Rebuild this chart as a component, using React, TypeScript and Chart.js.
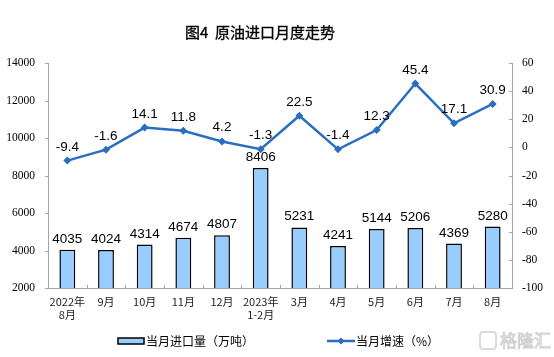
import React, { useEffect, useRef } from 'react';
import { Chart, registerables } from 'chart.js';

Chart.register(...registerables);

const categories: (string | string[])[] = [
  ['2022年', '8月'], '9月', '10月', '11月', '12月', ['2023年', '1-2月'],
  '3月', '4月', '5月', '6月', '7月', '8月',
];
const importVolume = [4035, 4024, 4314, 4674, 4807, 8406, 5231, 4241, 5144, 5206, 4369, 5280];
const growthRate = [-9.4, -1.6, 14.1, 11.8, 4.2, -1.3, 22.5, -1.4, 12.3, 45.4, 17.1, 30.9];
const leftAxis = { min: 2000, max: 14000, step: 2000 };
const rightAxis = { min: -100, max: 60, step: 20 };
const titleText = '图4  原油进口月度走势';
const barLegend = '当月进口量（万吨）';
const lineLegend = '当月增速（%）';
const watermark = '格隆汇';

const BAR_FILL = '#99CCFF';
const LINE_COLOR = '#2A6EC2';
const AXIS_COLOR = '#A6A6A6';
const CJK = '"Noto Sans CJK SC", "Noto Sans", sans-serif';
const SERIF = '"Liberation Serif", "Times New Roman", serif';
const SANS = '"Liberation Sans", Arial, sans-serif';

const decorPlugin = {
  id: 'decor',
  afterDatasetsDraw(chart: any) {
    const ctx = chart.ctx as CanvasRenderingContext2D;
    ctx.save();
    ctx.fillStyle = '#000';
    ctx.font = `13.5px ${SANS}`;
    ctx.textAlign = 'center';
    ctx.textBaseline = 'alphabetic';
    const barMeta = chart.getDatasetMeta(0);
    barMeta.data.forEach((el: any, i: number) => {
      ctx.fillText(String(importVolume[i]), el.x, el.y - 7);
    });
    const lineMeta = chart.getDatasetMeta(1);
    lineMeta.data.forEach((el: any, i: number) => {
      ctx.fillText(growthRate[i].toFixed(1), el.x, el.y - 10);
    });
    ctx.restore();
  },
  afterDraw(chart: any) {
    const ctx = chart.ctx as CanvasRenderingContext2D;
    const area = chart.chartArea;
    ctx.save();
    ctx.strokeStyle = AXIS_COLOR;
    ctx.lineWidth = 1;
    const ys = chart.scales.y;
    for (let v = leftAxis.min; v <= leftAxis.max; v += leftAxis.step) {
      const y = Math.round(ys.getPixelForValue(v)) + 0.5;
      ctx.beginPath();
      ctx.moveTo(area.left - 3, y);
      ctx.lineTo(area.left, y);
      ctx.stroke();
    }
    const ys1 = chart.scales.y1;
    for (let v = rightAxis.min; v <= rightAxis.max; v += rightAxis.step) {
      const y = Math.round(ys1.getPixelForValue(v)) + 0.5;
      ctx.beginPath();
      ctx.moveTo(area.right - 3, y);
      ctx.lineTo(area.right, y);
      ctx.stroke();
    }
    const n = categories.length;
    const w = (area.right - area.left) / n;
    for (let i = 1; i < n; i++) {
      const x = Math.round(area.left + i * w) + 0.5;
      ctx.beginPath();
      ctx.moveTo(x, area.bottom - 3);
      ctx.lineTo(x, area.bottom);
      ctx.stroke();
    }

    // title
    ctx.fillStyle = '#000';
    ctx.strokeStyle = '#000';
    ctx.lineWidth = 0.35;
    ctx.font = `15px ${CJK}`;
    ctx.textAlign = 'center';
    ctx.textBaseline = 'middle';
    ctx.fillText(titleText, 260, 32);
    ctx.strokeText(titleText, 260, 32);

    // legend
    const ly = 341;
    ctx.fillStyle = BAR_FILL;
    ctx.fillRect(118, ly - 3, 26, 6);
    ctx.strokeStyle = '#000';
    ctx.lineWidth = 1.5;
    ctx.strokeRect(118, ly - 3, 26, 6);
    ctx.fillStyle = '#000';
    ctx.font = `12px ${CJK}`;
    ctx.textAlign = 'left';
    ctx.fillText(barLegend, 146, ly);

    ctx.strokeStyle = LINE_COLOR;
    ctx.lineWidth = 2.5;
    ctx.beginPath();
    ctx.moveTo(327, ly);
    ctx.lineTo(355, ly);
    ctx.stroke();
    ctx.fillStyle = LINE_COLOR;
    ctx.beginPath();
    ctx.moveTo(341, ly - 3.5);
    ctx.lineTo(344.5, ly);
    ctx.lineTo(341, ly + 3.5);
    ctx.lineTo(337.5, ly);
    ctx.closePath();
    ctx.fill();
    ctx.fillStyle = '#000';
    ctx.fillText(lineLegend, 356, ly);

    // watermark
    ctx.strokeStyle = '#D0D0D0';
    ctx.lineWidth = 1.5;
    ctx.beginPath();
    (ctx as any).roundRect(480, 332, 16, 17, 3);
    ctx.stroke();
    ctx.lineWidth = 1;
    ctx.font = `17px ${CJK}`;
    ctx.strokeText(watermark, 500, ly);
    ctx.restore();
  },
};

export default function App() {
  const ref = useRef<HTMLCanvasElement | null>(null);
  useEffect(() => {
    document.body.style.margin = '0';
    const canvas = ref.current!;
    const chart = new Chart(canvas, {
      type: 'bar',
      data: {
        labels: categories,
        datasets: [
          {
            type: 'bar',
            data: importVolume,
            backgroundColor: BAR_FILL,
            borderColor: '#000',
            borderWidth: 1.5,
            barPercentage: 0.41,
            categoryPercentage: 1,
            yAxisID: 'y',
            order: 2,
          },
          {
            type: 'line',
            data: growthRate,
            borderColor: LINE_COLOR,
            backgroundColor: LINE_COLOR,
            borderWidth: 2.5,
            pointStyle: 'rectRot',
            pointRadius: 4,
            pointBorderWidth: 0,
            tension: 0,
            yAxisID: 'y1',
            order: 1,
          } as any,
        ],
      },
      options: {
        responsive: false,
        animation: false,
        devicePixelRatio: 1,
        layout: { padding: { top: 63, bottom: 35, left: 0, right: 0 } },
        plugins: { legend: { display: false }, title: { display: false }, tooltip: { enabled: false } },
        scales: {
          x: {
            offset: true,
            grid: { drawOnChartArea: false, drawTicks: false, offset: true },
            border: { color: AXIS_COLOR, width: 1 },
            ticks: {
              font: { family: CJK, size: 11 },
              color: '#222',
              padding: 7,
              maxRotation: 0,
              autoSkip: false,
            },
            afterFit: (s: any) => { s.height = 34; },
          },
          y: {
            position: 'left',
            min: leftAxis.min,
            max: leftAxis.max,
            grid: { drawOnChartArea: false, drawTicks: false },
            border: { color: AXIS_COLOR, width: 1 },
            ticks: {
              stepSize: leftAxis.step,
              font: { family: SERIF, size: 11.5 },
              color: '#000',
              padding: 13,
              callback: (v: any) => String(v),
            },
            afterFit: (s: any) => { s.width = 48; },
          },
          y1: {
            position: 'right',
            min: rightAxis.min,
            max: rightAxis.max,
            grid: { drawOnChartArea: false, drawTicks: false },
            border: { color: AXIS_COLOR, width: 1 },
            ticks: {
              stepSize: rightAxis.step,
              font: { family: SERIF, size: 11.5 },
              color: '#000',
              padding: 10,
              callback: (v: any) => String(v),
            },
            afterFit: (s: any) => { s.width = 42; },
          },
        },
      },
      plugins: [decorPlugin],
    });
    return () => chart.destroy();
  }, []);
  return (
    <div style={{ position: 'absolute', left: 0, top: 0, width: 554, height: 357, background: '#fff' }}>
      <canvas ref={ref} width={554} height={357} style={{ width: 554, height: 357, display: 'block' }} />
    </div>
  );
}
